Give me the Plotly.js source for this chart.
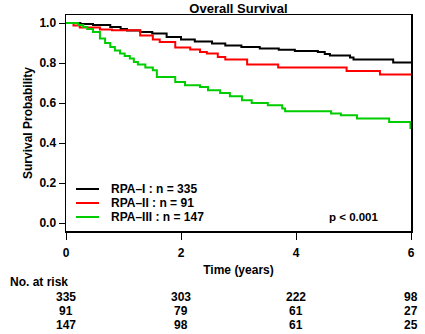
<!DOCTYPE html>
<html>
<head>
<meta charset="utf-8">
<script src="https://cdn.plot.ly/plotly-3.0.1.min.js"></script>
<style>html,body{margin:0;padding:0;background:#fff;}#chart{width:425px;height:334px;}</style>
</head>
<body>
<div id="chart"></div>
<script>
// ---- Data ----
var groupNames = ["RPA\u2013I : n = 335", "RPA\u2013II : n = 91", "RPA\u2013III : n = 147"];
var groupColors = ["#000000", "#FF0000", "#00CD00"];

var timeI = [0, 0.25, 0.47, 0.77, 0.95, 1.06, 1.29, 1.5, 1.75, 2.0, 2.24, 2.54, 2.77, 3.05, 3.37, 3.7, 3.98, 4.38, 4.5, 4.59, 4.94, 5.0, 5.69, 6.0];
var survI = [1.0, 0.995, 0.99, 0.98, 0.97, 0.963, 0.955, 0.947, 0.93, 0.918, 0.908, 0.897, 0.888, 0.88, 0.872, 0.866, 0.86, 0.855, 0.845, 0.838, 0.827, 0.817, 0.802, 0.802];

var timeII = [0, 0.13, 0.24, 0.59, 0.8, 1.29, 1.51, 1.63, 1.9, 2.16, 2.33, 2.45, 2.64, 2.77, 3.15, 3.69, 4.88, 5.46, 6.0];
var survII = [1.0, 0.988, 0.977, 0.967, 0.964, 0.937, 0.918, 0.905, 0.877, 0.868, 0.855, 0.847, 0.83, 0.817, 0.792, 0.777, 0.76, 0.743, 0.743];

var timeIII = [0, 0.21, 0.3, 0.37, 0.47, 0.59, 0.68, 0.77, 0.85, 0.94, 1.02, 1.11, 1.18, 1.25, 1.38, 1.51, 1.58, 1.9, 2.07, 2.33, 2.47, 2.68, 2.85, 3.06, 3.23, 3.51, 3.76, 3.81, 4.61, 4.78, 5.06, 5.62, 5.99, 6.0];
var survIII = [1.0, 0.99, 0.98, 0.97, 0.955, 0.922, 0.9, 0.88, 0.862, 0.847, 0.835, 0.822, 0.805, 0.792, 0.778, 0.764, 0.73, 0.705, 0.689, 0.68, 0.664, 0.65, 0.634, 0.614, 0.6, 0.589, 0.572, 0.559, 0.547, 0.539, 0.522, 0.505, 0.475, 0.475];

var riskTimes = [0, 2, 4, 6];
var riskI = [335, 303, 222, 98];
var riskII = [91, 79, 61, 27];
var riskIII = [147, 98, 61, 25];

var xTicks = [0, 2, 4, 6];
var yTicks = [0.0, 0.2, 0.4, 0.6, 0.8, 1.0];
var yTickText = ["0.0", "0.2", "0.4", "0.6", "0.8", "1.0"];
var pText = "p < 0.001";

// ---- Layout helpers (pixel -> paper) ----
var W = 425, H = 334;
var mL = 66, mR = 14, mT = 15, mB = 103;
var plotW = W - mL - mR, plotH = H - mT - mB;
function px(p) { return (p - mL) / plotW; }
function py(p) { return (H - mB - p) / plotH; }

var FONT = "Liberation Sans, Arial, Helvetica, sans-serif";
var bold = {family: FONT, size: 12, color: "#000", weight: "bold"};

var times = [timeI, timeII, timeIII];
var survs = [survI, survII, survIII];
var traces = [];
for (var i = 0; i < 3; i++) {
  traces.push({
    x: times[i], y: survs[i], type: "scatter", mode: "lines",
    line: {shape: "hv", color: groupColors[i], width: 2},
    name: groupNames[i], showlegend: false, hoverinfo: "skip"
  });
}

var shapes = [];
var annotations = [];
var legY = [189, 203, 217];
for (var k = 0; k < 3; k++) {
  shapes.push({type: "line", xref: "paper", yref: "paper",
    x0: px(76), x1: px(99), y0: py(legY[k]), y1: py(legY[k]),
    line: {color: groupColors[k], width: 2}});
  annotations.push({xref: "paper", yref: "paper", x: px(109), y: py(legY[k]),
    xanchor: "left", yanchor: "middle", text: groupNames[k], showarrow: false, font: bold});
}
annotations.push({xref: "paper", yref: "paper", x: px(354), y: py(217),
  xanchor: "center", yanchor: "middle", text: pText, showarrow: false,
  font: {family: FONT, size: 11.5, color: "#000"}});

annotations.push({xref: "paper", yref: "paper", x: px(8), y: py(282),
  xanchor: "left", yanchor: "middle", text: "No. at risk", showarrow: false, font: bold});
var riskRows = [riskI, riskII, riskIII];
var riskY = [297, 311, 325];
for (var r = 0; r < 3; r++) {
  for (var c = 0; c < riskTimes.length; c++) {
    annotations.push({xref: "x", yref: "paper", x: riskTimes[c], y: py(riskY[r]),
      xanchor: "center", yanchor: "middle", text: String(riskRows[r][c]),
      showarrow: false, font: bold});
  }
}

var layout = {
  width: W, height: H,
  margin: {l: mL, r: mR, t: mT, b: mB, pad: 0},
  paper_bgcolor: "#fff", plot_bgcolor: "#fff",
  font: bold,
  title: {text: "Overall Survival", font: {family: FONT, size: 13, color: "#000", weight: "bold"},
    x: 238.5 / W, xref: "container", xanchor: "center",
    y: 1 - 8 / H, yref: "container", yanchor: "middle"},
  xaxis: {range: [0, 6], tickvals: xTicks, ticktext: xTicks.map(String),
    ticks: "outside", ticklen: 7, tickwidth: 1, tickcolor: "#000",
    showline: true, linecolor: "#000", linewidth: 1.5, mirror: true,
    showgrid: false, zeroline: false, tickfont: bold, ticklabelstandoff: 3,
    title: {text: "Time (years)", font: bold, standoff: 6}},
  yaxis: {range: [-0.04, 1.04], tickvals: yTicks, ticktext: yTickText,
    ticks: "outside", ticklen: 6, tickwidth: 1, tickcolor: "#000",
    showline: true, linecolor: "#000", linewidth: 1.5, mirror: true,
    showgrid: false, zeroline: false, tickfont: bold,
    title: {text: "Survival Probability", font: bold, standoff: 4}},
  shapes: shapes,
  annotations: annotations
};

Plotly.newPlot("chart", traces, layout, {staticPlot: true, displayModeBar: false});
</script>
</body>
</html>
